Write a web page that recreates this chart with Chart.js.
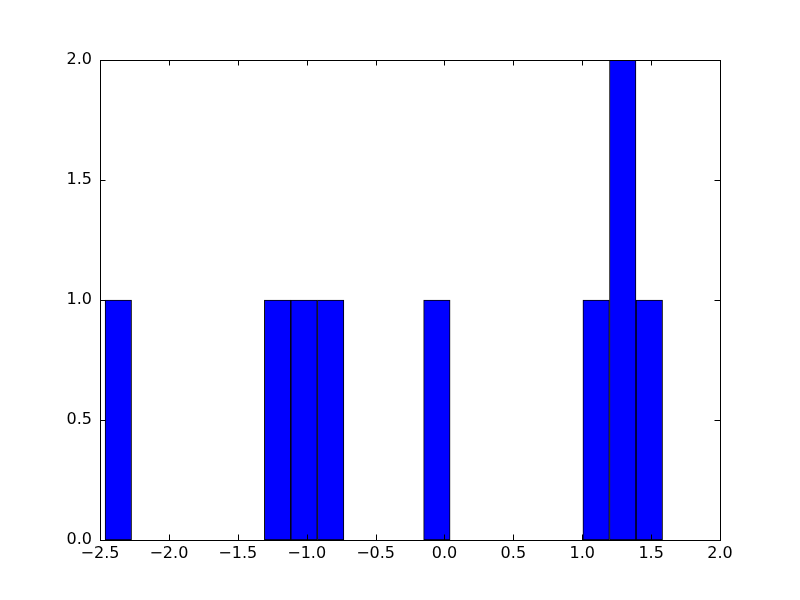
<!DOCTYPE html>
<html>
<head>
<meta charset="utf-8">
<script src="https://cdn.jsdelivr.net/npm/chart.js@4"></script>
<style>
  html, body { margin: 0; padding: 0; background: #fff; }
  #wrap { width: 800px; height: 600px; }
</style>
</head>
<body>
<div id="wrap"><canvas id="myChart" width="800" height="600"></canvas></div>
<script>
// histogram bins that have counts (bin centres)
let binCenters = [-2.367, -1.211, -1.019, -0.826, -0.055, 1.101, 1.294, 1.487];
let counts = [1, 1, 1, 1, 1, 1, 2, 1];
let xTicks = [-2.5, -2.0, -1.5, -1.0, -0.5, 0.0, 0.5, 1.0, 1.5, 2.0];
let yTicks = [0.0, 0.5, 1.0, 1.5, 2.0];

let points = binCenters.map((c, i) => ({ x: c, y: counts[i] }));

function fmt(v) {
  return v.toFixed(1).replace("-", "\u2212");
}

// matplotlib style box with inward ticks on all four sides
const frame = {
  id: "frame",
  afterDatasetsDraw(chart) {
    const ctx = chart.ctx;
    const a = chart.chartArea;
    const xs = chart.scales.x;
    const ys = chart.scales.y;
    const len = 5.5;
    ctx.save();
    ctx.strokeStyle = "#000";
    ctx.lineWidth = 1;
    ctx.strokeRect(a.left + 0.5, a.top + 0.5, a.right - a.left, a.bottom - a.top);
    ctx.beginPath();
    xTicks.forEach(t => {
      const px = Math.round(xs.getPixelForValue(t)) + 0.5;
      ctx.moveTo(px, a.bottom);
      ctx.lineTo(px, a.bottom - len);
      ctx.moveTo(px, a.top);
      ctx.lineTo(px, a.top + len);
    });
    yTicks.forEach(t => {
      const py = Math.round(ys.getPixelForValue(t)) + 0.5;
      ctx.moveTo(a.left, py);
      ctx.lineTo(a.left + len, py);
      ctx.moveTo(a.right, py);
      ctx.lineTo(a.right - len, py);
    });
    ctx.stroke();
    ctx.restore();
  }
};

let myChart = document.getElementById("myChart").getContext("2d");

let histChart = new Chart(myChart, {
  type: "bar",
  data: {
    datasets: [
      {
        data: points,
        backgroundColor: "#0000ff",
        borderColor: "#000000",
        borderWidth: 1,
        borderSkipped: false,
        barPercentage: 1.0,
        categoryPercentage: 1.0,
      },
    ],
  },
  options: {
    responsive: false,
    animation: false,
    layout: { padding: { left: 0, top: 60, right: 80, bottom: 0 } },
    plugins: { legend: { display: false }, tooltip: { enabled: false } },
    scales: {
      x: {
        type: "linear",
        offset: false,
        min: -2.5,
        max: 2.0,
        grid: { display: false, drawTicks: false, offset: false },
        border: { display: false },
        afterBuildTicks: s => { s.ticks = xTicks.map(v => ({ value: v })); },
        afterFit: s => { s.height = 60; },
        ticks: {
          color: "#000",
          font: { family: "DejaVu Sans", size: 16 },
          padding: 4,
          maxRotation: 0,
          autoSkip: false,
          callback: v => fmt(v),
        },
      },
      y: {
        min: 0,
        max: 2.0,
        grid: { display: false, drawTicks: false },
        border: { display: false },
        afterBuildTicks: s => { s.ticks = yTicks.map(v => ({ value: v })); },
        afterFit: s => { s.width = 100; },
        ticks: {
          color: "#000",
          font: { family: "DejaVu Sans", size: 16 },
          padding: 8,
          callback: v => fmt(v),
        },
      },
    },
  },
  plugins: [frame],
});
</script>
</body>
</html>
